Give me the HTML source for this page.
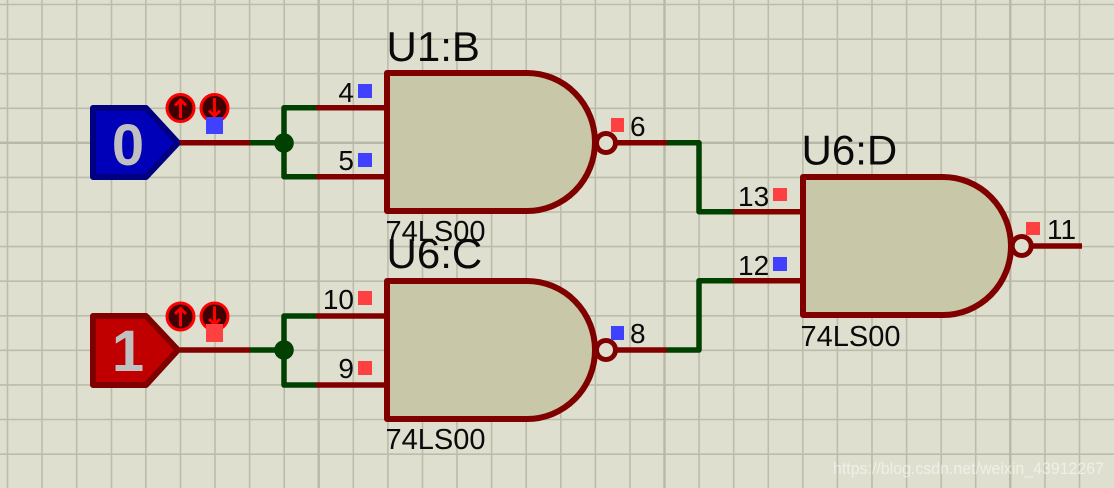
<!DOCTYPE html>
<html><head><meta charset="utf-8"><style>
html,body{margin:0;padding:0;background:#dfdfd0;width:1114px;height:488px;overflow:hidden}
svg{display:block}
text{font-family:"Liberation Sans",sans-serif;fill:#0a0a0a}
.p{font-size:28px}.r{font-size:42px}.v{font-size:29px}
.w{fill:none;stroke-width:5.5;stroke-linejoin:round;stroke-linecap:butt}
.red{stroke:#800000}.grn{stroke:#004000}
.g{fill:#c8c8a8;stroke:#800000;stroke-width:6;stroke-linejoin:round}
.b{fill:#dfdfd0;stroke:#800000;stroke-width:5}
.ic{fill:#400000;stroke:#ff0000;stroke-width:3}
.ar{fill:none;stroke:#ff0000;stroke-width:3}
</style></head><body>
<svg width="1114" height="488" viewBox="0 0 1114 488" xmlns="http://www.w3.org/2000/svg">
<rect width="1114" height="488" fill="#dfdfd0"/>
<path fill="none" stroke="#bcbcab" stroke-width="1.6" d="M7.5 0V488M42 0V488M76.7 0V488M111.5 0V488M145.8 0V488M180.5 0V488M215 0V488M249.6 0V488M284.2 0V488M353.3 0V488M387.9 0V488M422.5 0V488M457 0V488M491.6 0V488M526.2 0V488M560.8 0V488M595.4 0V488M630 0V488M699.1 0V488M733.7 0V488M768.3 0V488M802.8 0V488M837.4 0V488M872 0V488M906.6 0V488M941.2 0V488M975.7 0V488M1044.9 0V488M1079.5 0V488M0 4.5H1114M0 39.2H1114M0 73.7H1114M0 108.3H1114M0 177.4H1114M0 212H1114M0 246.6H1114M0 281.2H1114M0 315.8H1114M0 350.3H1114M0 384.9H1114M0 419.5H1114M0 454.2H1114"/>
<path fill="none" stroke="#b8b8a6" stroke-width="2.4" d="M318.7 0V488M664.5 0V488M1010.3 0V488M0 142.8H1114"/>

<!-- generators -->
<polygon points="93,108 146,108 178,142.8 146,177 93,177" fill="#0000b8" stroke="#000080" stroke-width="6" stroke-linejoin="round"/>
<polygon points="93,316 146,316 178,350 146,385 93,385" fill="#c00000" stroke="#800000" stroke-width="6" stroke-linejoin="round"/>
<text x="128" y="165" text-anchor="middle" font-size="58" font-weight="700" style="fill:#c0c0c0">0</text>
<text x="128" y="371" text-anchor="middle" font-size="58" font-weight="700" style="fill:#c0c0c0">1</text>

<!-- wires -->
<path class="w red" d="M180 142.800H250M180 350H250M316 107.700H390M316 176.700H390M316 316H390M316 385H390M616 142.800H667M616 350H667M733 211.700H803M732 280.700H803M1030 246H1082"/>
<path class="w grn" d="M250 142.800H284M250 350H284M316 107.700H284V176.700H316M316 316H284V385H316M667 142.800H699V211.700H733M667 350H699V280.700H733"/>
<circle cx="284" cy="143" r="9.8" fill="#004000"/>
<circle cx="284" cy="350" r="9.8" fill="#004000"/>

<!-- gates -->
<path class="g" d="M387 73H527A68 69 0 0 1 527 211H387Z"/>
<path class="g" d="M387 281H527A68 69 0 0 1 527 419H387Z"/>
<path class="g" d="M803 177H943A68 69 0 0 1 943 315H803Z"/>
<circle class="b" cx="606" cy="143" r="9.5"/>
<circle class="b" cx="606" cy="350" r="9.5"/>
<circle class="b" cx="1021.700" cy="246" r="9.5"/>

<!-- up/down icons -->
<circle class="ic" cx="180.5" cy="108" r="13.5"/>
<circle class="ic" cx="214.5" cy="108" r="13.5"/>
<circle class="ic" cx="180.5" cy="316.5" r="13.5"/>
<circle class="ic" cx="214.5" cy="316.5" r="13.5"/>
<path class="ar" d="M180.5 118V100M175 105.5L180.5 100L186 105.5"/>
<path class="ar" d="M214.5 98V116M209 110.5L214.5 116L220 110.5"/>
<path class="ar" d="M180.5 326.5V308.500M175 314L180.5 308.500L186 314"/>
<path class="ar" d="M214.5 306.500V324.500M209 319L214.500 324.500L220 319"/>

<!-- state squares -->
<g fill="#4040ff">
<rect x="206" y="117" width="17" height="17"/>
<rect x="358" y="84" width="14" height="14"/>
<rect x="358" y="153" width="14" height="14"/>
<rect x="611" y="326" width="13" height="14"/>
<rect x="773" y="257" width="14" height="14"/>
</g>
<g fill="#ff4040">
<rect x="206" y="324" width="17" height="18"/>
<rect x="358" y="291" width="14" height="14"/>
<rect x="358" y="361" width="14" height="14"/>
<rect x="611" y="118" width="13" height="14"/>
<rect x="773" y="188" width="14" height="13"/>
<rect x="1026" y="222" width="14" height="13"/>
</g>

<!-- pin labels -->
<text class="p" x="354" y="102" text-anchor="end">4</text>
<text class="p" x="354" y="170" text-anchor="end">5</text>
<text class="p" x="354" y="309" text-anchor="end">10</text>
<text class="p" x="354" y="378" text-anchor="end">9</text>
<text class="p" x="630" y="136">6</text>
<text class="p" x="630" y="343">8</text>
<text class="p" x="738" y="206">13</text>
<text class="p" x="738" y="275">12</text>
<text class="p" x="1047" y="239">11</text>

<!-- refs -->
<text class="r" x="386.500" y="61">U1:B</text>
<text class="r" x="386.500" y="268">U6:C</text>
<text class="r" x="801.500" y="164.500">U6:D</text>
<text class="v" x="385.500" y="241">74LS00</text>
<text class="v" x="385.500" y="449">74LS00</text>
<text class="v" x="800.500" y="346">74LS00</text>

<!-- watermark -->
<text x="833" y="474" font-size="17" textLength="271" lengthAdjust="spacingAndGlyphs" style="fill:rgba(250,250,245,.6)">https://blog.csdn.net/weixin_43912267</text>
</svg>
</body></html>
